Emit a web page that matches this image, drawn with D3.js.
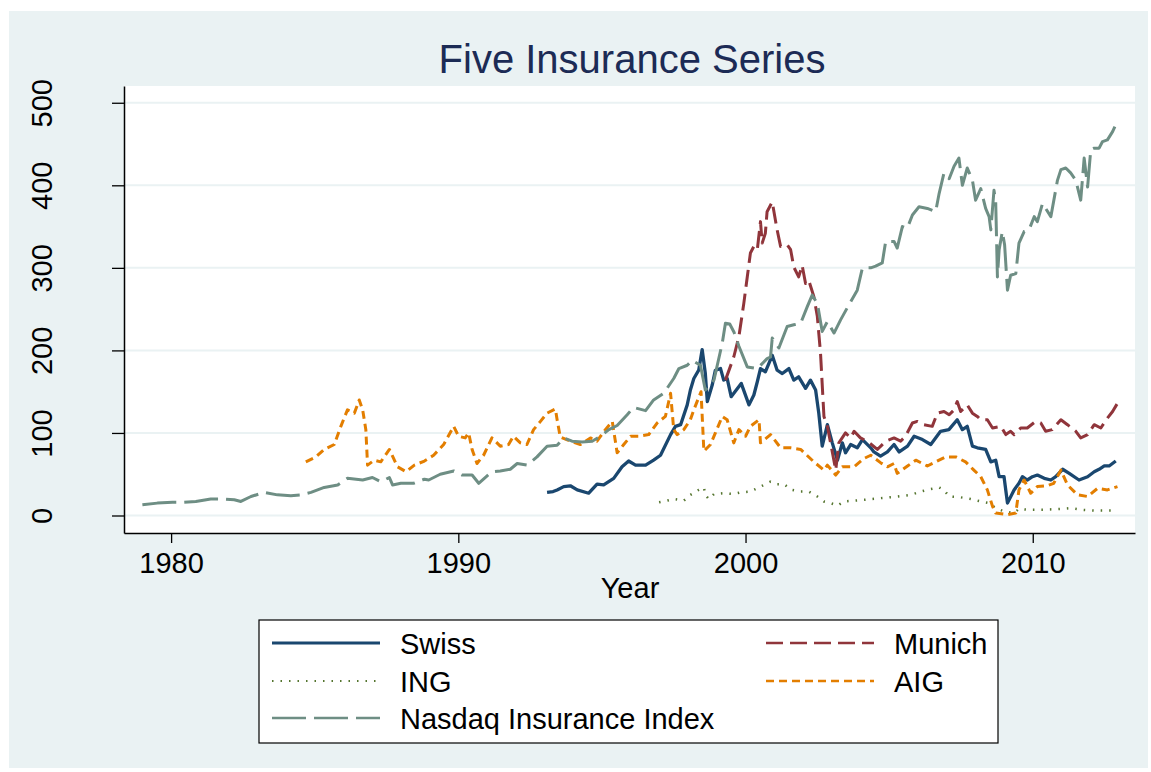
<!DOCTYPE html>
<html>
<head>
<meta charset="utf-8">
<script src="https://cdn.jsdelivr.net/npm/d3@7"></script>
<style>
  body { margin: 0; background: #fff; }
  text { font-family: "Liberation Sans", Arial, sans-serif; }
</style>
</head>
<body>
<script>
// values, [year, value]
var swiss = [[1993.09,28],[1993.3,29],[1993.44,31],[1993.67,35],[1993.9,36],[1994.14,31],[1994.54,27],[1994.83,38],[1995.06,37],[1995.41,45],[1995.7,59],[1995.93,66],[1996.17,61],[1996.52,61],[1996.8,67],[1997.04,73],[1997.39,98],[1997.56,108],[1997.74,110],[1997.97,134],[1998.08,152],[1998.2,166],[1998.37,176],[1998.49,201],[1998.6,172],[1998.67,138],[1998.84,158],[1998.95,176],[1999.13,178],[1999.24,164],[1999.36,166],[1999.5,144],[1999.85,160],[2000.12,134],[2000.29,146],[2000.41,162],[2000.52,178],[2000.69,174],[2000.93,194],[2001.1,176],[2001.28,172],[2001.51,178],[2001.68,164],[2001.85,168],[2002.09,154],[2002.26,164],[2002.44,152],[2002.55,124],[2002.67,84],[2002.85,110],[2003.02,88],[2003.2,67],[2003.37,88],[2003.48,76],[2003.66,86],[2003.89,82],[2004.07,92],[2004.36,82],[2004.47,77],[2004.7,72],[2004.94,77],[2005.17,86],[2005.35,77],[2005.64,84],[2005.87,96],[2006.16,92],[2006.45,86],[2006.79,102],[2007.08,104],[2007.37,116],[2007.55,104],[2007.72,108],[2007.9,84],[2008.07,82],[2008.36,80],[2008.54,65],[2008.71,67],[2008.83,47],[2009.0,47],[2009.12,15],[2009.35,31],[2009.52,39],[2009.64,47],[2009.81,43],[2009.99,47],[2010.16,49],[2010.4,45],[2010.63,43],[2010.8,47],[2011.04,56],[2011.27,51],[2011.61,43],[2011.91,47],[2012.14,53],[2012.31,56],[2012.49,60],[2012.66,60],[2012.89,66]];

var munich = [[1999.3,164],[1999.59,192],[1999.77,217],[1999.94,257],[2000.06,289],[2000.17,318],[2000.29,326],[2000.41,322],[2000.52,356],[2000.58,330],[2000.69,342],[2000.75,368],[2000.93,380],[2001.1,346],[2001.22,326],[2001.45,328],[2001.57,322],[2001.68,301],[2001.85,289],[2001.97,303],[2002.09,281],[2002.2,285],[2002.38,265],[2002.5,241],[2002.61,197],[2002.73,120],[2002.85,108],[2002.96,88],[2003.14,55],[2003.25,88],[2003.48,100],[2003.66,94],[2003.78,102],[2004.0,94],[2004.24,90],[2004.59,80],[2004.88,90],[2005.17,94],[2005.4,90],[2005.57,96],[2005.81,112],[2005.98,114],[2006.21,110],[2006.5,108],[2006.68,124],[2006.91,126],[2007.09,122],[2007.26,128],[2007.37,138],[2007.49,126],[2007.72,134],[2007.9,124],[2008.07,120],[2008.19,116],[2008.42,116],[2008.6,106],[2008.89,108],[2009.06,98],[2009.23,102],[2009.35,98],[2009.58,106],[2009.81,106],[2010.1,114],[2010.28,112],[2010.45,102],[2010.68,104],[2010.98,116],[2011.21,110],[2011.5,102],[2011.67,94],[2011.91,98],[2012.14,110],[2012.37,106],[2012.6,118],[2012.78,126],[2012.95,136]];

var ing = [[1996.99,16],[1997.27,18],[1997.5,20],[1997.85,18],[1998.08,25],[1998.37,31],[1998.55,34],[1998.6,25],[1998.72,20],[1998.9,26],[1999.24,27],[1999.59,26],[1999.83,28],[2000.17,29],[2000.52,35],[2000.87,41],[2001.1,38],[2001.33,38],[2001.62,31],[2001.92,29],[2002.2,29],[2002.5,23],[2002.73,17],[2002.96,15],[2003.2,12],[2003.43,17],[2003.78,18],[2004.12,19],[2004.7,21],[2005.28,23],[2005.75,25],[2006.1,29],[2006.45,32],[2006.74,34],[2006.91,31],[2007.09,23],[2007.49,22],[2007.84,20],[2008.19,17],[2008.48,15],[2008.71,9],[2009.0,5],[2009.35,3],[2009.52,8],[2009.81,7],[2010.4,7],[2010.98,8],[2011.32,9],[2011.67,7],[2012.14,6],[2012.6,6],[2012.84,6]];

var aig = [[1984.69,65],[1985.04,71],[1985.33,80],[1985.68,86],[1985.91,108],[1986.14,128],[1986.38,124],[1986.55,140],[1986.67,128],[1986.78,104],[1986.84,61],[1987.07,67],[1987.3,65],[1987.6,80],[1987.88,59],[1988.18,53],[1988.47,61],[1988.82,66],[1989.14,73],[1989.49,86],[1989.84,108],[1990.01,96],[1990.24,94],[1990.36,100],[1990.48,80],[1990.65,63],[1990.88,73],[1991.17,94],[1991.46,84],[1991.75,86],[1991.92,96],[1992.16,88],[1992.39,86],[1992.62,104],[1992.86,114],[1993.09,124],[1993.38,129],[1993.44,116],[1993.55,95],[1993.9,90],[1994.25,86],[1994.6,94],[1994.83,90],[1995.12,104],[1995.36,114],[1995.53,76],[1995.76,86],[1996.0,96],[1996.28,96],[1996.63,98],[1996.92,112],[1997.21,120],[1997.39,148],[1997.5,104],[1997.62,98],[1997.85,104],[1998.08,116],[1998.2,128],[1998.45,150],[1998.55,78],[1998.78,86],[1998.95,100],[1999.19,120],[1999.36,116],[1999.59,88],[1999.77,104],[2000.0,96],[2000.17,108],[2000.47,116],[2000.52,88],[2000.87,98],[2001.22,82],[2001.57,82],[2001.92,80],[2002.38,65],[2002.73,55],[2002.85,61],[2003.14,49],[2003.37,59],[2003.78,59],[2004.12,69],[2004.36,73],[2004.7,64],[2004.94,59],[2005.17,63],[2005.28,51],[2005.64,60],[2005.93,67],[2006.16,63],[2006.33,60],[2006.62,65],[2006.97,71],[2007.32,71],[2007.66,65],[2007.95,55],[2008.19,47],[2008.42,31],[2008.6,11],[2008.71,3],[2009.12,1],[2009.41,3],[2009.52,31],[2009.7,43],[2009.93,27],[2010.16,35],[2010.5,36],[2010.73,39],[2010.98,55],[2011.21,37],[2011.56,25],[2011.91,23],[2012.26,33],[2012.6,31],[2012.95,35]];

var nasdaq = [[1979.0,13],[1979.52,15],[1980.05,16],[1980.4,16],[1980.86,17],[1981.38,20],[1981.85,20],[1982.2,19],[1982.43,17],[1982.78,23],[1983.24,28],[1983.7,25],[1984.17,24],[1984.52,25],[1984.87,28],[1985.33,34],[1985.8,37],[1986.14,45],[1986.67,43],[1987.01,46],[1987.3,41],[1987.6,46],[1987.71,37],[1988.0,39],[1988.44,39],[1988.82,44],[1988.97,43],[1989.37,50],[1989.84,54],[1990.13,49],[1990.48,49],[1990.71,39],[1991.17,53],[1991.46,54],[1991.81,56],[1992.05,63],[1992.39,61],[1992.74,71],[1993.09,84],[1993.44,85],[1993.67,94],[1993.96,90],[1994.31,89],[1994.66,90],[1994.95,96],[1995.24,104],[1995.53,109],[1995.88,122],[1996.1,131],[1996.52,127],[1996.8,140],[1997.15,148],[1997.5,166],[1997.68,178],[1997.97,182],[1998.14,188],[1998.43,182],[1998.6,152],[1998.9,164],[1999.19,209],[1999.3,233],[1999.45,232],[1999.6,222],[1999.77,205],[2000.06,180],[2000.41,178],[2000.75,190],[2000.87,192],[2000.93,215],[2001.16,203],[2001.45,229],[2001.68,231],[2001.92,233],[2002.15,253],[2002.32,267],[2002.5,257],[2002.67,223],[2002.85,235],[2003.08,221],[2003.31,237],[2003.66,259],[2003.89,273],[2004.07,300],[2004.36,300],[2004.53,302],[2004.76,306],[2004.88,332],[2005.17,332],[2005.28,324],[2005.46,350],[2005.63,348],[2005.81,364],[2006.04,374],[2006.33,372],[2006.62,368],[2006.74,390],[2006.91,415],[2007.09,408],[2007.26,423],[2007.43,433],[2007.55,400],[2007.72,421],[2007.9,406],[2008.01,382],[2008.19,396],[2008.36,372],[2008.48,362],[2008.54,346],[2008.65,394],[2008.71,380],[2008.77,289],[2008.83,322],[2008.94,344],[2009.02,328],[2009.12,273],[2009.23,291],[2009.41,293],[2009.52,330],[2009.7,344],[2009.87,346],[2010.05,362],[2010.16,356],[2010.34,378],[2010.63,362],[2010.86,406],[2010.98,419],[2011.15,421],[2011.32,415],[2011.5,406],[2011.67,382],[2011.79,433],[2011.91,398],[2012.02,443],[2012.14,445],[2012.31,445],[2012.43,453],[2012.6,455],[2012.78,465],[2012.95,478]];

var xTicks = [1980, 1990, 2000, 2010];
var yTicks = [0, 100, 200, 300, 400, 500];
var names = ["Swiss", "Munich", "ING", "AIG", "Nasdaq Insurance Index"];

var width = 1151,
    height = 772;

var series = [
  {name: names[0], data: swiss,  color: "#1a476f", dash: null,    w: 3.3},
  {name: names[1], data: munich, color: "#90353b", dash: "17,7",  w: 3},
  {name: names[2], data: ing,    color: "#55752f", dash: "1.5,7", w: 2.5},
  {name: names[3], data: aig,    color: "#e37e00", dash: "8,5",   w: 3},
  {name: names[4], data: nasdaq, color: "#6e8e84", dash: "34,8",  w: 3}
];

var plot = {left: 124, right: 1135, top: 86, bottom: 533};

var x = d3.scaleLinear().domain([1978.36, 2013.56]).range([plot.left, plot.right]);
var y = d3.scaleLinear().domain([-21.2, 520.3]).range([plot.bottom, plot.top]);

var svg = d3.select("body").append("svg")
    .attr("width", width)
    .attr("height", height);

// outer graph region
svg.append("rect")
    .attr("x", 9).attr("y", 11)
    .attr("width", 1139).attr("height", 757)
    .attr("fill", "#eaf2f3");

svg.append("rect")
    .attr("x", plot.left).attr("y", plot.top)
    .attr("width", plot.right - plot.left).attr("height", plot.bottom - plot.top)
    .attr("fill", "#fff");

// gridlines
svg.append("g").selectAll("line")
    .data(yTicks)
  .enter().append("line")
    .attr("x1", plot.left).attr("x2", plot.right)
    .attr("y1", function(d) { return y(d); })
    .attr("y2", function(d) { return y(d); })
    .attr("stroke", "#eaf2f3")
    .attr("stroke-width", 2);

svg.append("text")
    .attr("x", 632).attr("y", 73)
    .attr("text-anchor", "middle")
    .attr("font-size", 40)
    .attr("fill", "#1c2b55")
    .text("Five Insurance Series");

// lines
var line = d3.line()
    .x(function(d) { return x(d[0]); })
    .y(function(d) { return y(d[1]); });

svg.append("g").selectAll("path")
    .data(series)
  .enter().append("path")
    .attr("d", function(d) { return line(d.data); })
    .attr("fill", "none")
    .attr("stroke", function(d) { return d.color; })
    .attr("stroke-width", function(d) { return d.w; })
    .attr("stroke-dasharray", function(d) { return d.dash; })
    .attr("stroke-linejoin", "round");

// axes
var yAxis = svg.append("g")
    .attr("transform", "translate(" + plot.left + ",0)")
    .call(d3.axisLeft(y).tickValues(yTicks).tickSize(12).tickSizeOuter(0));

yAxis.selectAll("text")
    .attr("transform", "rotate(-90)")
    .attr("x", 0).attr("y", -72).attr("dy", 0)
    .attr("text-anchor", "middle");

var xAxis = svg.append("g")
    .attr("transform", "translate(0," + plot.bottom + ")")
    .call(d3.axisBottom(x).tickValues(xTicks).tickFormat(d3.format("d")).tickSize(10).tickSizeOuter(0));

xAxis.selectAll("text").attr("y", 40).attr("dy", 0);

svg.selectAll(".tick text")
    .attr("font-size", 29)
    .attr("font-family", "'Liberation Sans', Arial, sans-serif")
    .attr("fill", "#000");
svg.selectAll(".tick line").attr("stroke", "#000").attr("stroke-width", 1.3);
svg.selectAll(".domain").attr("stroke", "#000").attr("stroke-width", 1.5);

svg.append("text")
    .attr("x", 630).attr("y", 598)
    .attr("text-anchor", "middle")
    .attr("font-size", 29)
    .text("Year");

// legend
var legend = svg.append("g");

legend.append("rect")
    .attr("x", 259).attr("y", 620)
    .attr("width", 739).attr("height", 123)
    .attr("fill", "#fff")
    .attr("stroke", "#000")
    .attr("stroke-width", 1.2);

var legendPos = [[272, 643], [766, 643], [272, 681], [766, 681], [272, 718]];

var item = legend.selectAll(".item")
    .data(series)
  .enter().append("g")
    .attr("class", "item")
    .attr("transform", function(d, i) { return "translate(" + legendPos[i][0] + "," + legendPos[i][1] + ")"; });

item.append("line")
    .attr("x1", 0).attr("x2", 108)
    .attr("stroke", function(d) { return d.color; })
    .attr("stroke-width", function(d) { return d.w - 0.5; })
    .attr("stroke-dasharray", function(d) { return d.dash; });

item.append("text")
    .attr("x", 128)
    .attr("y", 11)
    .attr("font-size", 29)
    .text(function(d) { return d.name; });
</script>
</body>
</html>
